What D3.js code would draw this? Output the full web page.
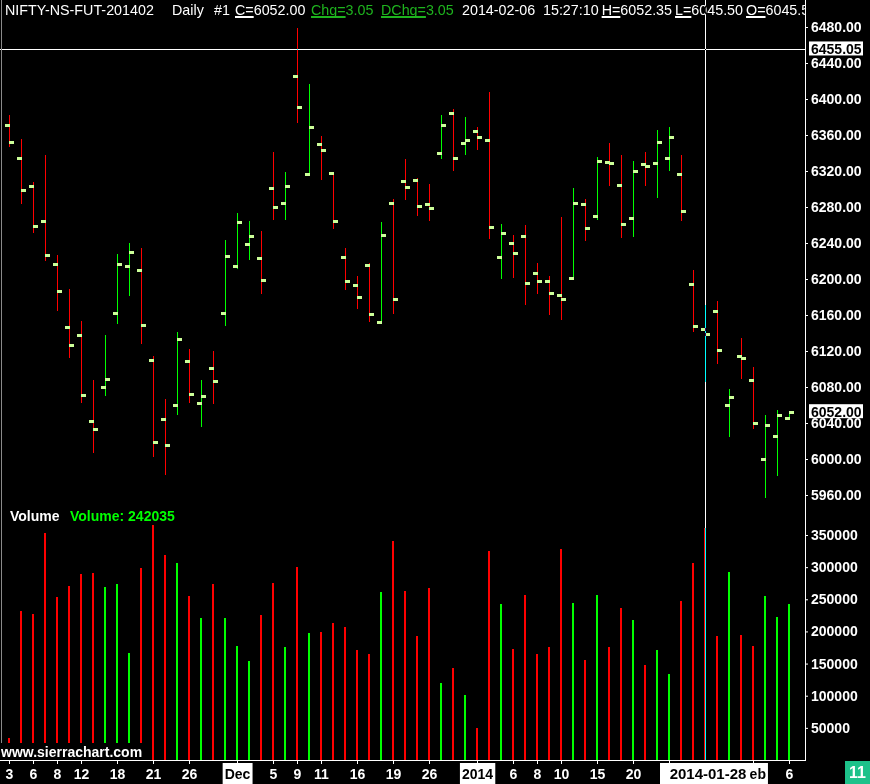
<!DOCTYPE html>
<html><head><meta charset="utf-8">
<script src="https://cdn.jsdelivr.net/npm/d3@7"></script>
<style>
html,body{margin:0;padding:0;background:#000;}
svg{display:block;}
</style></head><body>
<svg id="c" width="870" height="784"></svg>
<script>
// ---------------- DATA ----------------
const dates = ["2013-11-03","2013-11-05","2013-11-06","2013-11-07","2013-11-08","2013-11-11","2013-11-12","2013-11-13","2013-11-14","2013-11-18","2013-11-19","2013-11-20","2013-11-21","2013-11-22","2013-11-25","2013-11-26","2013-11-27","2013-11-28","2013-11-29",
"2013-12-02","2013-12-03","2013-12-04","2013-12-05","2013-12-06","2013-12-09","2013-12-10","2013-12-11","2013-12-12","2013-12-13","2013-12-16","2013-12-17","2013-12-18","2013-12-19","2013-12-20","2013-12-23","2013-12-26","2013-12-27","2013-12-30","2013-12-31",
"2014-01-01","2014-01-02","2014-01-03","2014-01-06","2014-01-07","2014-01-08","2014-01-09","2014-01-10","2014-01-13","2014-01-14","2014-01-15","2014-01-16","2014-01-17","2014-01-20","2014-01-21","2014-01-22","2014-01-23","2014-01-24","2014-01-27","2014-01-28","2014-01-29","2014-01-30","2014-01-31",
"2014-02-03","2014-02-04","2014-02-05","2014-02-06"];

const openP = [6370.8,6334.1,6303.0,6264.1,6216.3,6146.3,6137.4,6041.9,6079.7,6161.9,6214.1,6209.7,6109.7,6044.1,6059.7,6108.6,6061.9,6100.8,6161.9,6214.1,6238.6,6223.0,6300.8,6284.1,6425.2,6316.3,6349.7,6317.4,6224.1,6193.0,6215.2,6152.2,6284.1,6308.6,6309.7,6283.0,6339.7,6384.1,6350.8,6364.1,6354.1,6224.1,6239.7,6247.4,6206.3,6197.4,6181.9,6200.8,6283.0,6269.7,6329.7,6304.1,6267.4,6327.4,6328.6,6334.1,6316.3,6194.1,6144.1,6164.1,6059.7,6114.1,6087.4,6000.3,6025.2,6045.50];
const highP = [6382.2,6355.6,6307.8,6337.8,6226.7,6188.9,6153.3,6087.8,6137.8,6227.8,6240.0,6234.4,6114.4,6066.7,6141.1,6122.2,6087.8,6120.0,6243.3,6273.3,6264.4,6253.3,6341.1,6318.9,6478.6,6416.7,6358.6,6317.4,6234.1,6203.3,6217.4,6263.3,6288.6,6333.3,6311.9,6305.6,6382.2,6388.9,6380.0,6368.9,6407.8,6261.1,6248.9,6260.0,6217.8,6203.3,6268.9,6301.1,6288.9,6335.6,6351.1,6337.8,6331.1,6341.1,6365.6,6368.9,6337.8,6210.0,6171.4,6175.6,6077.8,6134.4,6102.2,6048.9,6054.4,6052.35];
const lowP = [6347.8,6284.8,6252.6,6221.4,6165.6,6113.7,6063.7,6008.1,6071.1,6151.4,6182.6,6129.2,6003.7,5983.7,6050.3,6063.7,6037.0,6062.6,6149.2,6212.2,6222.2,6184.8,6267.0,6267.0,6374.8,6316.3,6311.4,6257.0,6189.2,6168.1,6153.3,6151.1,6161.9,6289.2,6271.4,6265.9,6334.8,6321.4,6339.2,6344.8,6245.9,6201.4,6202.6,6172.6,6184.8,6161.4,6155.9,6200.8,6243.7,6267.0,6304.4,6247.0,6248.1,6304.4,6291.1,6321.4,6265.9,6142.6,6087.0,6106.7,6025.6,6090.0,6034.4,5958.1,5982.2,6045.50];
const closeP = [6351.9,6298.6,6258.6,6226.3,6186.3,6126.3,6070.8,6033.0,6088.6,6216.3,6229.7,6148.6,6018.6,6015.2,6133.0,6071.9,6069.7,6086.3,6225.2,6263.0,6247.4,6198.6,6279.7,6303.0,6390.8,6368.6,6343.0,6264.1,6197.4,6179.7,6160.8,6248.6,6177.4,6301.9,6280.8,6278.6,6370.8,6334.1,6354.1,6357.4,6257.4,6250.8,6228.6,6195.2,6197.4,6184.1,6177.4,6284.1,6256.3,6330.8,6328.6,6260.8,6319.7,6325.2,6351.9,6357.4,6275.2,6147.4,6138.6,6120.8,6068.6,6111.9,6039.7,6037.4,6048.95,6052.00];
const volume = [34000,232000,227400,353600,253900,271000,289700,291300,269500,274100,
166700,299100,366000,319300,306800,255400,221200,274100,221200,177600,
154200,225900,275700,176000,300600,197800,199400,213400,207200,171300,
165100,261700,341100,263200,193100,267900,119900,143300,101200,49800,
325500,243000,172900,257000,165100,176000,328700,244500,155800,257000,
176000,236800,218100,148000,171300,134000,247700,306800,361400,193100,
292800,194700,177600,255400,222700,242035];

const priceTicks = [6480,6440,6400,6360,6320,6280,6240,6200,6160,6120,6080,6040,6000,5960];
const volumeTicks = [50000,100000,150000,200000,250000,300000,350000];
const xTickDates = ["2013-11-03","2013-11-06","2013-11-08","2013-11-12","2013-11-18","2013-11-21","2013-11-26","2013-12-02","2013-12-05","2013-12-09","2013-12-11","2013-12-16","2013-12-19","2013-12-26","2014-01-01","2014-01-06","2014-01-08","2014-01-10","2014-01-15","2014-01-20","2014-01-23","2014-02-03","2014-02-06"];
const xTickLabels = ["3","6","8","12","18","21","26","Dec","5","9","11","16","19","26","2014","6","8","10","15","20","","Feb","6"];
const boxedLabels = ["Dec","2014","Feb"];

const symbol = "NIFTY-NS-FUT-201402";
const period = "Daily";
const chartNo = "#1";
const lastDate = "2014-02-06";
const lastTime = "15:27:10";
const crosshairPrice = 6455.05;
const crosshairDate = "2014-01-28";
const pageNo = "11";

// ---------------- DRAW ----------------
const W = 870, H = 784;
const FONT = "'Liberation Sans', Arial, sans-serif";
const RED = "#ff0000", GREEN = "#00ff00", TICKC = "#ccff99";
const svg = d3.select("#c");
svg.append("rect").attr("width", W).attr("height", H).attr("fill", "#000");

const x = d3.scalePoint().domain(dates).range([9, 789]);
const yP = d3.scaleLinear().domain([5960, 6480]).range([495, 27]);
const yV = d3.scaleLinear().domain([0, 350000]).range([760, 535]);

const bars = dates.map((d, i) => ({d, o: openP[i], h: highP[i], l: lowP[i], c: closeP[i], v: volume[i]}));
const colorOf = b => (b.c >= b.o ? GREEN : RED);

// left border
svg.append("rect").attr("x", 1).attr("y", 0).attr("width", 1).attr("height", 760).attr("fill", "#8a8a8a");

// volume bars
svg.append("g").selectAll("rect").data(bars).join("rect")
  .attr("x", b => x(b.d) - 1).attr("width", 2)
  .attr("y", b => Math.round(yV(b.v)))
  .attr("height", b => 760 - Math.round(yV(b.v)))
  .attr("fill", colorOf);

// watermark
svg.append("rect").attr("x", 0).attr("y", 743).attr("width", 150).attr("height", 17).attr("fill", "#000");
svg.append("text").attr("x", 1).attr("y", 756.5).attr("fill", "#fff")
  .attr("font-family", FONT).attr("font-size", 14).attr("font-weight", "bold").text("www.sierrachart.com");

// price OHLC bars
const gb = svg.append("g");
const barG = gb.selectAll("g").data(bars).join("g");
barG.append("rect")
  .attr("x", b => x(b.d)).attr("width", 1)
  .attr("y", b => Math.round(yP(b.h)))
  .attr("height", b => Math.max(1, Math.round(yP(b.l)) - Math.round(yP(b.h)) + 1))
  .attr("fill", colorOf);
barG.append("rect")
  .attr("x", b => x(b.d) - 4).attr("width", 5)
  .attr("y", b => Math.round(yP(b.o)) - 1).attr("height", 3)
  .attr("fill", TICKC);
barG.append("rect")
  .attr("x", b => x(b.d)).attr("width", 5)
  .attr("y", b => Math.round(yP(b.c)) - 1).attr("height", 3)
  .attr("fill", TICKC);

// right axes
function styleAxis(g) {
  g.select(".domain").remove();
  g.attr("font-family", FONT).attr("font-size", 14).attr("font-weight", "bold");
  g.selectAll("line").attr("stroke", "#fff");
  g.selectAll("text").attr("fill", "#fff");
}
svg.append("g").attr("transform", "translate(805,0)")
  .call(d3.axisRight(yP).tickValues(priceTicks).tickSize(3).tickPadding(3).tickFormat(d3.format(".2f")))
  .call(styleAxis);
svg.append("g").attr("transform", "translate(805,0)")
  .call(d3.axisRight(yV).tickValues(volumeTicks).tickSize(3).tickPadding(3).tickFormat(d3.format("d")))
  .call(styleAxis);
svg.append("rect").attr("x", 805).attr("y", 0).attr("width", 1).attr("height", 761).attr("fill", "#fff");

// bottom axis
const gx = svg.append("g").attr("transform", "translate(0,760)")
  .call(d3.axisBottom(x).tickValues(xTickDates).tickSize(4).tickPadding(5)
    .tickFormat(d => xTickLabels[xTickDates.indexOf(d)]))
  .call(styleAxis);
gx.selectAll(".tick").each(function(d) {
  const lab = xTickLabels[xTickDates.indexOf(d)];
  if (boxedLabels.includes(lab)) {
    const t = d3.select(this).select("text");
    const bb = t.node().getBBox();
    d3.select(this).insert("rect", "text")
      .attr("x", bb.x - 2).attr("y", 3).attr("width", bb.width + 4).attr("height", 21).attr("fill", "#fff");
    t.attr("fill", "#000");
  }
});
svg.append("rect").attr("x", 0).attr("y", 760).attr("width", 806).attr("height", 1).attr("fill", "#fff");

// header
const last = bars[bars.length - 1], prev = bars[bars.length - 2];
const chg = (last.c - prev.c).toFixed(2);
const HCOL = "#1eb41e";
const header = [
  {t: symbol, x: 5},
  {t: period, x: 172},
  {t: chartNo, x: 214},
  {u: "C=", t: last.c.toFixed(2), x: 235},
  {u: "Chg=", t: chg, x: 311, col: HCOL},
  {u: "DChg=", t: chg, x: 381, col: HCOL},
  {t: lastDate, x: 462},
  {t: lastTime, x: 543},
  {u: "H=", t: last.h.toFixed(2)},
  {u: "L=", t: last.l.toFixed(2)},
  {u: "O=", t: last.o.toFixed(2)}
];
svg.append("clipPath").attr("id", "hclip").append("rect").attr("x", 0).attr("y", 0).attr("width", 806).attr("height", 24);
const gh = svg.append("g").attr("clip-path", "url(#hclip)")
  .attr("font-family", FONT).attr("font-size", 14.3);
let cursor = 0;
header.forEach(h => {
  const col = h.col || "#fff";
  const hx = (h.x !== undefined) ? h.x : cursor + 3;
  const t = gh.append("text").attr("x", hx).attr("y", 14.5).attr("fill", col);
  if (h.u) {
    const ts = t.append("tspan").text(h.u);
    t.append("tspan").text(h.t);
    const w = ts.node().getComputedTextLength();
    gh.append("rect").attr("x", hx).attr("y", 16).attr("width", w).attr("height", 2).attr("fill", col);
  } else {
    t.text(h.t);
  }
  cursor = hx + t.node().getComputedTextLength();
});

// volume title
svg.append("text").attr("x", 10).attr("y", 521).attr("fill", "#fff")
  .attr("font-family", FONT).attr("font-size", 14).attr("font-weight", "bold").text("Volume");
svg.append("text").attr("x", 70).attr("y", 521).attr("fill", GREEN)
  .attr("font-family", FONT).attr("font-size", 14).attr("font-weight", "bold").text("Volume: " + last.v);

// crosshair (XOR-like)
const cx = x(crosshairDate), cy = Math.round(yP(crosshairPrice));
svg.append("rect").attr("x", cx).attr("y", 0).attr("width", 1).attr("height", 760)
  .attr("fill", "#fff").style("mix-blend-mode", "difference");
svg.append("rect").attr("x", 0).attr("y", cy).attr("width", 805).attr("height", 1)
  .attr("fill", "#fff").style("mix-blend-mode", "difference");

// value boxes on price axis
function valueBox(v, yc) {
  svg.append("rect").attr("x", 809).attr("y", yc - 7.5).attr("width", 54).attr("height", 14).attr("fill", "#fff");
  svg.append("text").attr("x", 811).attr("y", yc).attr("dy", "0.35em").attr("fill", "#000")
    .attr("font-family", FONT).attr("font-size", 14).attr("font-weight", "bold").text(d3.format(".2f")(v));
}
valueBox(crosshairPrice, yP(crosshairPrice) - 0.5);
valueBox(last.c, yP(last.c) - 0.5);

// crosshair date box
svg.append("rect").attr("x", cx - 45).attr("y", 763).attr("width", 89).attr("height", 21).attr("fill", "#fff");
svg.append("text").attr("x", cx + 3).attr("y", 779).attr("text-anchor", "middle").attr("fill", "#000")
  .attr("font-family", FONT).attr("font-size", 15).attr("font-weight", "bold").text(crosshairDate);

// page box
svg.append("rect").attr("x", 845).attr("y", 761).attr("width", 25).attr("height", 23).attr("fill", "#1dc28a");
svg.append("text").attr("x", 857.5).attr("y", 778).attr("text-anchor", "middle").attr("fill", "#fff")
  .attr("font-family", FONT).attr("font-size", 16).attr("font-weight", "bold").text(pageNo);
</script>
</body></html>
